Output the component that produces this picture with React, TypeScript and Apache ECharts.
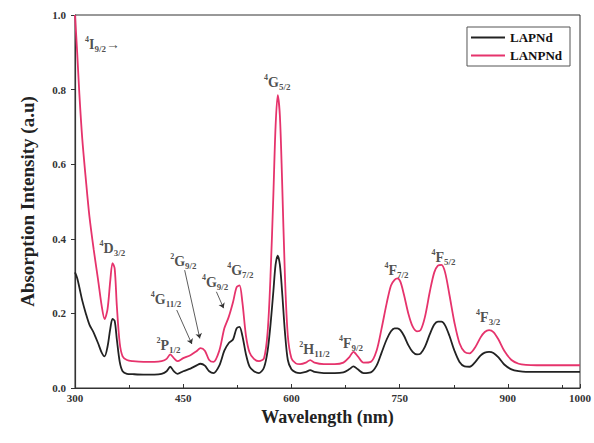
import React, { useEffect, useRef } from "react";
import * as echarts from "echarts";

const wavelengths = [300, 303, 306, 310, 315, 320, 326, 332, 337, 341, 345, 349, 352, 355, 358, 362, 366, 372, 380, 395, 410, 420, 427, 432, 437, 442, 450, 460, 468, 474, 480, 486, 492, 500, 507, 513, 519, 524, 528, 532, 537, 542, 548, 555, 562, 567, 571, 575, 578, 581, 584, 587, 591, 595, 600, 606, 612, 620, 626, 632, 645, 660, 672, 680, 686, 692, 700, 710, 718, 725, 732, 738, 743, 747, 751, 756, 762, 768, 774, 779, 785, 792, 798, 803, 808, 813, 819, 826, 833, 840, 847, 855, 862, 868, 874, 880, 887, 895, 905, 915, 925, 940, 960, 980, 1000];

const lanpnd = [1.0, 0.9, 0.79, 0.67, 0.56, 0.46, 0.37, 0.29, 0.22, 0.185, 0.21, 0.29, 0.335, 0.32, 0.22, 0.12, 0.085, 0.075, 0.072, 0.07, 0.07, 0.072, 0.078, 0.09, 0.08, 0.072, 0.08, 0.088, 0.098, 0.107, 0.1, 0.075, 0.07, 0.1, 0.16, 0.19, 0.23, 0.27, 0.275, 0.23, 0.14, 0.095, 0.078, 0.072, 0.08, 0.15, 0.3, 0.52, 0.7, 0.785, 0.73, 0.56, 0.3, 0.14, 0.08, 0.066, 0.064, 0.068, 0.075, 0.068, 0.064, 0.064, 0.068, 0.082, 0.097, 0.085, 0.068, 0.07, 0.1, 0.16, 0.227, 0.275, 0.29, 0.294, 0.285, 0.25, 0.2, 0.165, 0.152, 0.155, 0.19, 0.26, 0.31, 0.328, 0.33, 0.31, 0.25, 0.175, 0.12, 0.097, 0.093, 0.11, 0.135, 0.15, 0.155, 0.15, 0.13, 0.1, 0.075, 0.065, 0.062, 0.061, 0.061, 0.061, 0.061];

const lapnd = [0.31, 0.295, 0.27, 0.235, 0.2, 0.17, 0.148, 0.12, 0.095, 0.085, 0.11, 0.16, 0.185, 0.18, 0.13, 0.07, 0.045, 0.038, 0.037, 0.036, 0.036, 0.038, 0.045, 0.057, 0.045, 0.038, 0.045, 0.052, 0.06, 0.065, 0.06, 0.045, 0.04, 0.06, 0.1, 0.12, 0.13, 0.16, 0.164, 0.14, 0.09, 0.057, 0.045, 0.04, 0.055, 0.1, 0.17, 0.26, 0.33, 0.355, 0.33, 0.26, 0.15, 0.075, 0.05, 0.042, 0.04, 0.043, 0.048, 0.043, 0.04, 0.04, 0.042, 0.05, 0.058, 0.05, 0.04, 0.042, 0.06, 0.095, 0.13, 0.152, 0.16, 0.16, 0.155, 0.14, 0.115, 0.097, 0.09, 0.092, 0.11, 0.145, 0.17, 0.178, 0.178, 0.168, 0.14, 0.1, 0.07, 0.058, 0.057, 0.07, 0.087, 0.095, 0.097, 0.094, 0.082, 0.063, 0.05, 0.045, 0.043, 0.043, 0.043, 0.043, 0.043];

const seriesNames = ["LAPNd", "LANPNd"];

// Annotation terms: [superscript, letter, subscript, suffix]
const annotationTerms = [
  ["4", "I", "9/2", "→"],
  ["4", "D", "3/2", ""],
  ["4", "G", "11/2", ""],
  ["2", "G", "9/2", ""],
  ["2", "P", "1/2", ""],
  ["4", "G", "9/2", ""],
  ["4", "G", "7/2", ""],
  ["4", "G", "5/2", ""],
  ["2", "H", "11/2", ""],
  ["4", "F", "9/2", ""],
  ["4", "F", "7/2", ""],
  ["4", "F", "5/2", ""],
  ["4", "F", "3/2", ""],
];
const annotationX = [314, 334, 405, 432, 413, 476, 511, 562, 611, 666, 729, 794, 856];
const annotationY = [0.92, 0.375, 0.236, 0.338, 0.115, 0.284, 0.316, 0.82, 0.102, 0.12, 0.316, 0.351, 0.188];

const arrowFrom = [[441, 0.209], [452, 0.316], [496, 0.258]];
const arrowTo = [[462, 0.118], [473, 0.133], [506, 0.214]];

const xTicks = { min: 300, max: 1000, interval: 150 };
const yTicks = { min: 0, max: 1, interval: 0.2 };

const SERIF = "'Liberation Serif', 'DejaVu Serif', serif";

export default function App() {
  const ref = useRef<HTMLDivElement>(null);
  useEffect(() => {
    if (!ref.current) return;
    const chart = echarts.init(ref.current, null, { renderer: "svg" });
    const blackData = wavelengths.map((w, i) => [w, lapnd[i]]);
    const pinkData = wavelengths.map((w, i) => [w, lanpnd[i]]);
    const annData = annotationX.map((x, i) => ({ value: [x, annotationY[i]], idx: i }));
    chart.setOption({
      animation: false,
      backgroundColor: "#ffffff",
      grid: { left: 75, right: 14, top: 15, bottom: 55, show: true, borderColor: "#333", borderWidth: 1 },
      legend: {
        data: seriesNames,
        orient: "vertical",
        right: 24,
        top: 27,
        borderColor: "#555",
        borderWidth: 1,
        borderRadius: 0,
        padding: [4, 8, 4, 4],
        itemGap: 5,
        itemWidth: 34,
        itemHeight: 2,
        icon: "rect",
        textStyle: { fontFamily: SERIF, fontWeight: "bold", fontSize: 13, color: "#111" },
      },
      xAxis: {
        type: "value",
        min: xTicks.min,
        max: xTicks.max,
        interval: xTicks.interval,
        name: "Wavelength (nm)",
        nameLocation: "middle",
        nameGap: 9,
        nameTextStyle: { fontFamily: SERIF, fontWeight: "bold", fontSize: 18, color: "#222", verticalAlign: "top" },
        axisLine: { lineStyle: { color: "#333", width: 1.2 } },
        axisTick: { inside: true, length: 4, lineStyle: { color: "#333" } },
        minorTick: { show: true, splitNumber: 2, length: 3, lineStyle: { color: "#333" } },
        splitLine: { show: false },
        axisLabel: {
          fontFamily: SERIF,
          fontWeight: "bold",
          fontSize: 11,
          color: "#333",
          margin: 4,
          formatter: (v: number) => String(v),
        },
      },
      yAxis: {
        type: "value",
        min: yTicks.min,
        max: yTicks.max,
        interval: yTicks.interval,
        name: "Absorption Intensity (a.u)",
        nameLocation: "middle",
        nameGap: 38,
        nameTextStyle: { fontFamily: SERIF, fontWeight: "bold", fontSize: 19, color: "#222" },
        axisLine: { lineStyle: { color: "#333", width: 1.2 } },
        axisTick: { inside: false, length: 4, lineStyle: { color: "#333" } },
        splitLine: { show: false },
        axisLabel: {
          fontFamily: SERIF,
          fontWeight: "bold",
          fontSize: 11,
          color: "#333",
          margin: 9,
          formatter: (v: number) => v.toFixed(1),
        },
      },
      series: [
        {
          name: seriesNames[0],
          type: "line",
          data: blackData,
          smooth: 0.3,
          showSymbol: false,
          lineStyle: { color: "#222", width: 1.8 },
          itemStyle: { color: "#222" },
          z: 3,
        },
        {
          name: seriesNames[1],
          type: "line",
          data: pinkData,
          smooth: 0.3,
          showSymbol: false,
          lineStyle: { color: "#e6336c", width: 1.8 },
          itemStyle: { color: "#e6336c" },
          z: 2,
        },
        {
          name: "arrows",
          type: "lines",
          coordinateSystem: "cartesian2d",
          silent: true,
          symbol: ["none", "arrow"],
          symbolSize: 5,
          lineStyle: { color: "#333", width: 0.8, opacity: 1 },
          data: arrowFrom.map((f, i) => ({ coords: [f, arrowTo[i]] })),
          z: 4,
        },
        {
          name: "labels",
          type: "scatter",
          symbolSize: 0,
          silent: true,
          data: annData,
          z: 5,
          label: {
            show: true,
            position: [0, 0],
            align: "left",
            verticalAlign: "middle",
            formatter: (p: any) => {
              const t = annotationTerms[p.data.idx];
              let s = `{sup|${t[0]}}{b|${t[1]}}{sub|${t[2]}}`;
              if (t[3]) s += `{b|${t[3]}}`;
              return s;
            },
            rich: {
              b: { fontFamily: SERIF, fontWeight: "bold", fontSize: 14, color: "#222", lineHeight: 18, verticalAlign: "middle" },
              sup: { fontFamily: SERIF, fontWeight: "bold", fontSize: 8, color: "#222", lineHeight: 9, verticalAlign: "top" },
              sub: { fontFamily: SERIF, fontWeight: "bold", fontSize: 9, color: "#222", lineHeight: 9, verticalAlign: "bottom" },
            },
          },
        },
      ],
    });
    return () => chart.dispose();
  }, []);
  return <div ref={ref} style={{ width: 594, height: 443, position: "absolute", left: 0, top: 0 }} />;
}
